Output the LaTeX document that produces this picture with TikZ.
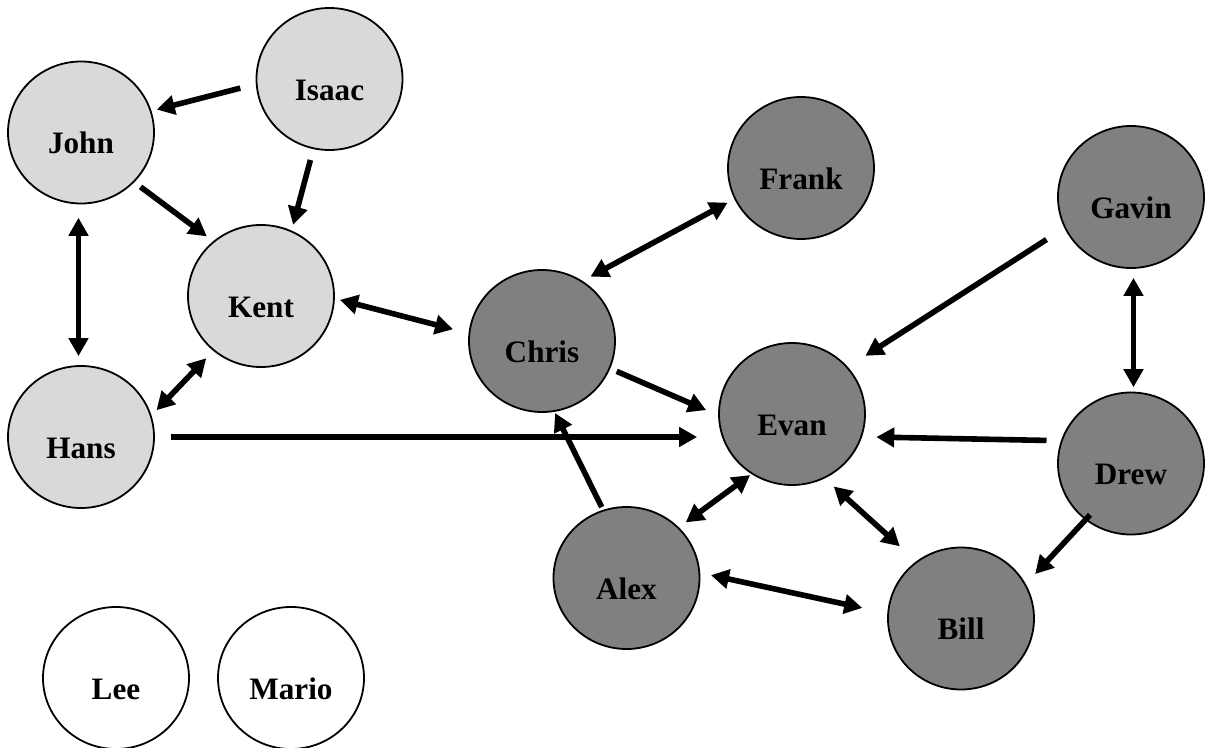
\documentclass[tikz,border=0pt]{standalone}
\usepackage{fontspec}
\setmainfont{Liberation Serif}
\usepackage{tikz}
\usetikzlibrary{arrows.meta,shapes.geometric}
\definecolor{paleshade}{RGB}{217,217,217}
\definecolor{midshade}{RGB}{128,128,128}

\begin{document}
\begin{tikzpicture}[
 x=0.5pt,y=-0.5pt,
 every node/.style={font=\fontsize{15.6}{18}\selectfont\bfseries},
 person/.style={ellipse,draw,line width=0.9pt,minimum width=73pt,minimum height=71pt,inner sep=0pt,text height=21.5pt,text depth=0pt},
 outer/.style={person,fill=paleshade},
 inner/.style={person,fill=midshade},
 loner/.style={person,fill=white},
 arrow/.style={-{Triangle[length=9pt,width=9.5pt]},line width=2.8pt},
 twoway/.style={{Triangle[length=9pt,width=9.5pt]}-{Triangle[length=9pt,width=9.5pt]},line width=2.8pt}
]
\useasboundingbox (0,0) rectangle (1207,748);
% left group
\node[outer] (isaac) at (329.5,79) {Isaac};
\node[outer] (john) at (81,132.5) {John};
\node[outer] (kent) at (261,296) {Kent};
\node[outer] (hans) at (81,437) {Hans};
% right group
\node[inner] (chris) at (542,341) {Chris};
\node[inner] (frank) at (801,168) {Frank};
\node[inner] (evan) at (792,414) {Evan};
\node[inner] (gavin) at (1131,197) {Gavin};
\node[inner] (drew) at (1131,463.5) {Drew};
\node[inner] (alex) at (626.5,578) {Alex};
\node[inner] (bill) at (961,618.5) {Bill};
% no links
\node[loner] (lee) at (116,678) {Lee};
\node[loner] (mario) at (291,678) {Mario};

\draw[arrow,shorten <=8pt,shorten >=2.7pt] (isaac.184) -- (john.17);
\draw[arrow,shorten <=5.6pt,shorten >=3pt] (isaac.257) -- (kent.65);
\draw[arrow,shorten <=3.9pt,shorten >=4pt] (john.317) -- (kent.131);
\draw[twoway,shorten <=6.7pt,shorten >=4.5pt] (john.268) -- (hans.92);
\draw[twoway,shorten <=5.1pt,shorten >=3.6pt] (kent.229) -- (hans.17);
\draw[twoway,shorten <=2.6pt,shorten >=8pt] (kent.358) -- (chris.174);
\draw[arrow,shorten <=8pt,shorten >=10.5pt] (hans.east) -- (hans.east -| evan.west);
\draw[twoway,shorten <=4.5pt,shorten >=3.8pt] (chris.56) -- (frank.205);
\draw[arrow,shorten <=3.5pt,shorten >=6.5pt] (chris.338) -- (evan.181);
\draw[arrow,shorten <=1.5pt,shorten >=0.7pt] (alex.109) -- (chris.280);
\draw[arrow,shorten <=10.6pt,shorten >=10.4pt] (gavin.205) -- (evan.40);
\draw[twoway,shorten <=4.5pt,shorten >=2.2pt] (gavin.272) -- (drew.88);
\draw[arrow,shorten <=7.2pt,shorten >=7.1pt] (drew.162) -- (evan.342);
\draw[arrow,shorten <=-3.5pt,shorten >=6.8pt] (drew.231) -- (bill.28);
\draw[twoway,shorten <=6pt,shorten >=11.1pt] (evan.297) -- (bill.128);
\draw[twoway,shorten <=0.8pt,shorten >=4.2pt] (evan.236) -- (alex.44);
\draw[twoway,shorten <=5.5pt,shorten >=12.8pt] (alex.4) -- (bill.176);
\end{tikzpicture}
\end{document}
